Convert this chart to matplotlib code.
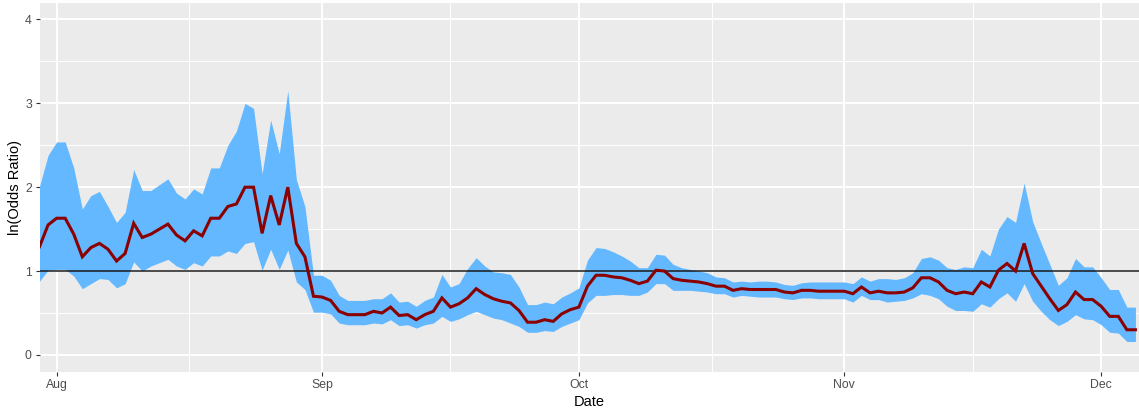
import matplotlib
matplotlib.use("Agg")
import matplotlib.pyplot as plt
import pandas as pd

plt.rcParams['font.family'] = ['Liberation Sans', 'DejaVu Sans']

# daily estimates, 30 Jul - 5 Dec
start_date = "2020-07-30"
end_date = "2020-12-05"

estimate = [
    # Jul 30-31
    1.29, 1.55,
    # Aug
    1.63, 1.63, 1.44, 1.17, 1.28, 1.33, 1.26, 1.12, 1.21, 1.57,
    1.40, 1.44, 1.50, 1.56, 1.43, 1.36, 1.48, 1.42, 1.63, 1.63,
    1.77, 1.80, 2.00, 2.00, 1.45, 1.90, 1.55, 2.00, 1.33, 1.17, 0.70,
    # Sep
    0.69, 0.65, 0.52, 0.48, 0.48, 0.48, 0.52, 0.50, 0.57, 0.47,
    0.48, 0.42, 0.48, 0.52, 0.68, 0.57, 0.61, 0.68, 0.79, 0.72,
    0.67, 0.64, 0.62, 0.53, 0.39, 0.39, 0.42, 0.40, 0.49, 0.54,
    # Oct
    0.57, 0.82, 0.95, 0.95, 0.93, 0.92, 0.89, 0.85, 0.88, 1.01,
    1.00, 0.91, 0.89, 0.88, 0.87, 0.85, 0.82, 0.82, 0.77, 0.79,
    0.78, 0.78, 0.78, 0.78, 0.75, 0.74, 0.77, 0.77, 0.76, 0.76, 0.76,
    # Nov
    0.76, 0.73, 0.81, 0.74, 0.76, 0.74, 0.74, 0.75, 0.80, 0.92,
    0.92, 0.87, 0.77, 0.73, 0.75, 0.73, 0.87, 0.81, 1.01, 1.09,
    1.00, 1.33, 0.97, 0.82, 0.67, 0.53, 0.60, 0.75, 0.66, 0.66,
    # Dec 1-5
    0.58, 0.46, 0.46, 0.30, 0.30,
]

upper = [
    2.01, 2.38,
    2.54, 2.54, 2.23, 1.74, 1.90, 1.95, 1.77, 1.58, 1.70, 2.21,
    1.96, 1.96, 2.03, 2.10, 1.93, 1.86, 1.98, 1.92, 2.23, 2.23,
    2.50, 2.67, 3.00, 2.94, 2.16, 2.80, 2.40, 3.15, 2.09, 1.77, 0.95,
    0.95, 0.89, 0.71, 0.65, 0.65, 0.65, 0.67, 0.67, 0.74, 0.63,
    0.64, 0.58, 0.65, 0.69, 0.96, 0.81, 0.85, 1.03, 1.16, 1.06,
    0.99, 0.98, 0.96, 0.81, 0.60, 0.60, 0.63, 0.61, 0.69, 0.74,
    0.80, 1.13, 1.28, 1.27, 1.23, 1.18, 1.12, 1.04, 1.04, 1.20,
    1.19, 1.08, 1.04, 1.02, 1.00, 0.98, 0.93, 0.92, 0.87, 0.88,
    0.87, 0.88, 0.88, 0.87, 0.84, 0.83, 0.86, 0.87, 0.87, 0.87, 0.87,
    0.87, 0.85, 0.93, 0.88, 0.91, 0.91, 0.90, 0.92, 0.98, 1.15,
    1.17, 1.13, 1.04, 1.02, 1.05, 1.04, 1.26, 1.18, 1.50, 1.65,
    1.58, 2.05, 1.59, 1.33, 1.08, 0.83, 0.92, 1.15, 1.05, 1.05,
    0.92, 0.78, 0.78, 0.57, 0.57,
]

lower = [
    0.88, 1.01,
    1.02, 1.02, 0.94, 0.79, 0.85, 0.91, 0.90, 0.80, 0.85, 1.11,
    1.00, 1.06, 1.10, 1.14, 1.06, 1.02, 1.10, 1.06, 1.18, 1.18,
    1.24, 1.21, 1.33, 1.35, 1.01, 1.26, 1.02, 1.25, 0.87, 0.78, 0.51,
    0.51, 0.49, 0.38, 0.36, 0.36, 0.36, 0.38, 0.37, 0.42, 0.35,
    0.36, 0.32, 0.36, 0.38, 0.46, 0.40, 0.43, 0.48, 0.52, 0.48,
    0.44, 0.42, 0.38, 0.34, 0.27, 0.27, 0.29, 0.28, 0.34, 0.38,
    0.42, 0.62, 0.71, 0.71, 0.72, 0.72, 0.71, 0.71, 0.75, 0.85,
    0.85, 0.77, 0.77, 0.77, 0.76, 0.75, 0.73, 0.73, 0.69, 0.71,
    0.70, 0.69, 0.69, 0.69, 0.67, 0.66, 0.68, 0.68, 0.67, 0.67, 0.67,
    0.67, 0.63, 0.71, 0.66, 0.66, 0.63, 0.64, 0.65, 0.68, 0.73,
    0.71, 0.67, 0.58, 0.53, 0.53, 0.52, 0.61, 0.57, 0.67, 0.74,
    0.64, 0.85, 0.64, 0.52, 0.42, 0.35, 0.40, 0.48, 0.43, 0.42,
    0.36, 0.27, 0.26, 0.16, 0.16,
]

dates = pd.date_range(start_date, end_date, freq="D")

fig = plt.figure(figsize=(11.39, 4.12), dpi=100)
ax = fig.add_axes([39.5 / 1139, 40.3 / 412, 1 - 39.5 / 1139, 369.0 / 412])
ax.set_facecolor("#EBEBEB")
for s in ax.spines.values():
    s.set_visible(False)

ax.fill_between(dates, lower, upper, color="#63B8FF", linewidth=0, zorder=2)
ax.axhline(1, color="#1a1a1a", linewidth=1.1, zorder=3)
ax.plot(dates, estimate, color="#8B0000", linewidth=2.2, zorder=4,
        solid_joinstyle="miter")

# month ticks, minor grid halfway between months
months = pd.date_range("2020-08-01", "2020-12-01", freq="MS")
mids = [months[i] + (months[i + 1] - months[i]) / 2 for i in range(len(months) - 1)]
ax.set_xticks(months)
ax.set_xticklabels([m.strftime("%b") for m in months])
ax.set_xticks(mids, minor=True)
ax.set_xlim(pd.Timestamp(start_date), pd.Timestamp(end_date) + pd.Timedelta(hours=10))

ax.set_ylim(-0.2, 4.2)
ax.set_yticks([0, 1, 2, 3, 4])
ax.set_yticks([0.5, 1.5, 2.5, 3.5], minor=True)

ax.grid(which="major", color="white", linewidth=1.4, zorder=0)
ax.grid(which="minor", color="white", linewidth=0.7, zorder=0)
ax.set_axisbelow(True)

ax.tick_params(which="major", length=3, width=0.8, color="#333333",
               labelcolor="#4D4D4D", labelsize=8.8, pad=2.5)
ax.tick_params(which="minor", length=0)

ax.set_xlabel("Date", fontsize=10.5, labelpad=2.5)
ax.set_ylabel("ln(Odds Ratio)", fontsize=10.5, labelpad=2)

fig.savefig("out.png", dpi=100)
